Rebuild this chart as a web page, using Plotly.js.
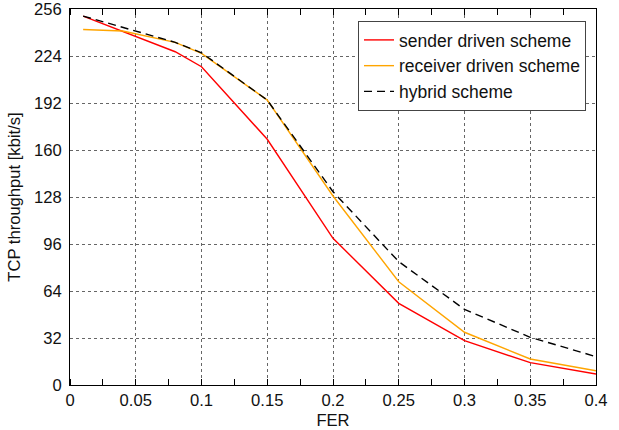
<!DOCTYPE html>
<html>
<head>
<meta charset="utf-8">
<script src="https://cdn.plot.ly/plotly-3.0.1.min.js"></script>
<style>html,body{margin:0;padding:0;background:#fff;}#chart{width:619px;height:430px;}</style>
</head>
<body>
<div id="chart"></div>
<script>
const fer = [0.01, 0.04, 0.08, 0.1, 0.15, 0.2, 0.25, 0.3, 0.35, 0.4];
const senderDriven = [251.2, 241, 226.9, 216.7, 167.3, 99.9, 55.6, 30.2, 15.2, 7.5];
const receiverDriven = [242, 241, 233.3, 225.8, 194, 128.7, 70.3, 35.9, 17.7, 9.7];
const hybrid = [251.2, 243.5, 233.3, 226.2, 194, 131.6, 84, 51.5, 32.5, 19.3];
const seriesNames = ['sender driven scheme', 'receiver driven scheme', 'hybrid scheme'];
const xTicks = [0, 0.05, 0.1, 0.15, 0.2, 0.25, 0.3, 0.35, 0.4];
const xTickText = ['0', '0.05', '0.1', '0.15', '0.2', '0.25', '0.3', '0.35', '0.4'];
const yTicks = [0, 32, 64, 96, 128, 160, 192, 224, 256];

const font = 'Liberation Sans, Arial, Helvetica, sans-serif';
const fs = 16.6;
const traces = [
  {x: fer, y: senderDriven, name: seriesNames[0], mode: 'lines', line: {color: '#ff0000', width: 1.4}},
  {x: fer, y: receiverDriven, name: seriesNames[1], mode: 'lines', line: {color: '#ffa500', width: 1.4}},
  {x: fer, y: hybrid, name: seriesNames[2], mode: 'lines', line: {color: '#000000', width: 1.4, dash: '8px,5px'}}
];
const layout = {
  width: 619, height: 430,
  margin: {l: 70, r: 23, t: 9, b: 45},
  paper_bgcolor: '#fff', plot_bgcolor: '#fff',
  font: {family: font, size: fs, color: '#111'},
  showlegend: true,
  legend: {x: 0.981, xanchor: 'right', y: 0.968, yanchor: 'top', bgcolor: '#fff',
           bordercolor: '#444', borderwidth: 1, font: {family: font, size: 17.5, color: '#111'},
           tracegroupgap: 0, itemwidth: 30},
  xaxis: {
    range: [0, 0.4], tickvals: xTicks, ticktext: xTickText, ticks: '',
    showline: true, linecolor: '#000', linewidth: 1, mirror: 'allticks',
    showgrid: true, gridcolor: '#666', griddash: 'dot', gridwidth: 1, zeroline: false,
    minor: {dtick: 0.025, tick0: 0.025, ticks: 'inside', ticklen: 6, tickcolor: '#000', showgrid: false},
    title: {text: 'FER', font: {size: fs}, standoff: 5},
    tickfont: {size: fs}, ticklabeloverflow: 'allow'
  },
  yaxis: {
    range: [0, 256], tickvals: yTicks, ticks: '',
    showline: true, linecolor: '#000', linewidth: 1, mirror: true,
    showgrid: true, gridcolor: '#666', griddash: 'dot', gridwidth: 1, zeroline: false,
    title: {text: 'TCP throughput [kbit/s]', font: {size: fs}, standoff: 9},
    tickfont: {size: fs}, ticklabelstandoff: 4, ticklabeloverflow: 'allow'
  }
};
Plotly.newPlot('chart', traces, layout, {staticPlot: true, displayModeBar: false});
</script>
</body>
</html>
